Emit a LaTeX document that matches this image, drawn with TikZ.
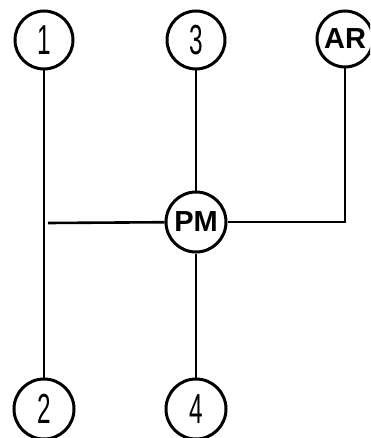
\documentclass[tikz,border=0pt]{standalone}
\usepackage{fontspec}
\setmainfont{Liberation Sans}
\usepackage{graphicx}
\begin{document}
\begin{tikzpicture}[x=1pt,y=-1pt,
  gearnum/.style={circle,draw,line width=3pt,minimum size=58pt,inner sep=0pt,
    font=\fontsize{42}{42}\selectfont},
  gearlbl/.style={circle,draw,line width=3pt,minimum size=56pt,inner sep=0pt,
    font=\fontsize{29}{29}\selectfont\bfseries},
  wire/.style={line width=2.6pt}]
\useasboundingbox (0,0) rectangle (370,438);
\clip (0,0) rectangle (370,438);
\node[gearnum] (n1) at (44,40) {\scalebox{0.58}[1]{1}};
\node[gearnum] (n3) at (196,40) {\scalebox{0.58}[1]{3}};
\node[gearlbl] (ar) at (345,39) {AR};
\node[gearlbl,minimum size=60pt] (pm) at (196,222) {PM};
\node[gearnum,minimum size=60pt] (n2) at (44,409) {\scalebox{0.58}[1]{2}};
\node[gearnum,minimum size=60pt] (n4) at (196,409) {\scalebox{0.58}[1]{4}};
\coordinate (hl) at (48,223);
\draw[wire] (n1) -- (n2);
\draw[wire] (n3) -- (pm);
\draw[wire] (pm) -- (n4);
\draw[wire] (hl) -- (pm);
\draw[wire] (pm.east) -| (ar.south);
\end{tikzpicture}
\end{document}
